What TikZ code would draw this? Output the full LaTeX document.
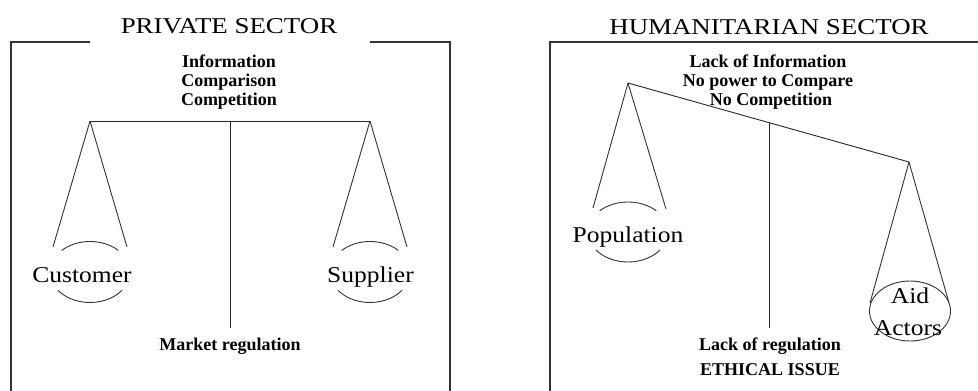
\documentclass[tikz,border=0pt]{standalone}
\usepackage{fontspec}
\setmainfont{Liberation Serif}
\newfontfamily\lightfont[FakeStretch=1.13]{Liberation Serif}
\newfontfamily\titlefont[FakeStretch=1.19]{Liberation Serif}
\tikzset{
  frame/.style={line width=1.3pt, draw=black!80},
  beamline/.style={line width=0.9pt, draw=black!85},
  panline/.style={line width=0.9pt, draw=black!80},
  titletext/.style={font=\titlefont\fontsize{22.6}{27}\selectfont, anchor=base, inner sep=0pt},
  pantext/.style={font=\lightfont\fontsize{22.6}{27}\selectfont, anchor=base, inner sep=0pt},
  boldtext/.style={font=\bfseries\fontsize{18}{20}\selectfont, anchor=base, inner sep=0pt},
}
\begin{document}
\begin{tikzpicture}[x=1pt,y=-1pt]
\useasboundingbox (0,0) rectangle (978,391);
% ---------- PRIVATE SECTOR ----------
\draw[frame] (90,42) -- (11,42) -- (11,391);
\draw[frame] (370,42) -- (450,42) -- (450,391);
\node[titletext] (ptitle) at (229,33) {PRIVATE SECTOR};
\node[boldtext] (pinfo) at (229,67) {Information};
\node[boldtext] (pcomp) at (229,86) {Comparison};
\node[boldtext] (pcompet) at (229,105) {Competition};
\node[boldtext] (pmarket) at (230,350) {Market regulation};
\coordinate (LA) at (90,121);
\coordinate (RA) at (370,121);
\coordinate (LP) at (230,121);
\coordinate (LB) at (230,328);
\draw[beamline] (LA) -- (RA);
\draw[beamline] (LP) -- (LB);
% customer pan
\coordinate (LA1) at (53,247);
\coordinate (LA2) at (127,247);
\coordinate (LC) at (90,272);
\draw[panline] (LA) -- (LA1);
\draw[panline] (LA) -- (LA2);
\draw[panline] ([shift={(225:40 and 30.5)}]LC) arc[start angle=225,end angle=315,x radius=40,y radius=30.5];
\draw[panline] ([shift={(37:40 and 30.5)}]LC) arc[start angle=37,end angle=143,x radius=40,y radius=30.5];
\node[pantext] (customer) at (82,282) {Customer};
% supplier pan
\coordinate (RA1) at (333,247);
\coordinate (RA2) at (407,247);
\coordinate (RC) at (370,272);
\draw[panline] (RA) -- (RA1);
\draw[panline] (RA) -- (RA2);
\draw[panline] ([shift={(225:40 and 30.5)}]RC) arc[start angle=225,end angle=315,x radius=40,y radius=30.5];
\draw[panline] ([shift={(37:40 and 30.5)}]RC) arc[start angle=37,end angle=143,x radius=40,y radius=30.5];
\node[pantext] (supplier) at (370.5,282) {Supplier};
% ---------- HUMANITARIAN SECTOR ----------
\draw[frame] (978,42) -- (550,42) -- (550,391);
\node[titletext] (htitle) at (769,34) {HUMANITARIAN SECTOR};
\node[boldtext] (hinfo) at (768,67) {Lack of Information};
\node[boldtext] (hpower) at (768,86) {No power to Compare};
\node[boldtext] (hcompet) at (771,105) {No Competition};
\node[boldtext] (hlack) at (770,350) {Lack of regulation};
\node[boldtext] (hethic) at (770,375) {ETHICAL ISSUE};
\coordinate (HL) at (628,83);
\coordinate (HR) at (909,162);
\coordinate (HP) at (769,122.6);
\coordinate (HB) at (769,328);
\draw[beamline] (HL) -- (HR);
\draw[beamline] (HP) -- (HB);
% population pan
\coordinate (HL1) at (593,208);
\coordinate (HL2) at (666,209);
\coordinate (HC) at (628,232);
\draw[panline] (HL) -- (HL1);
\draw[panline] (HL) -- (HL2);
\draw[panline] ([shift={(225:40 and 30)}]HC) arc[start angle=225,end angle=315,x radius=40,y radius=30];
\draw[panline] ([shift={(37:40 and 30)}]HC) arc[start angle=37,end angle=143,x radius=40,y radius=30];
\node[pantext] (population) at (628,242) {Population};
% aid actors pan
\coordinate (HR1) at (870,303);
\coordinate (HR2) at (949,303);
\coordinate (AC) at (910,311);
\draw[panline] (HR) -- (HR1);
\draw[panline] (HR) -- (HR2);
\draw[panline] (AC) ellipse[x radius=40.5,y radius=30];
\node[pantext] (aid) at (910,303) {Aid};
\node[pantext] (actors) at (908,335) {Actors};
\end{tikzpicture}
\end{document}
